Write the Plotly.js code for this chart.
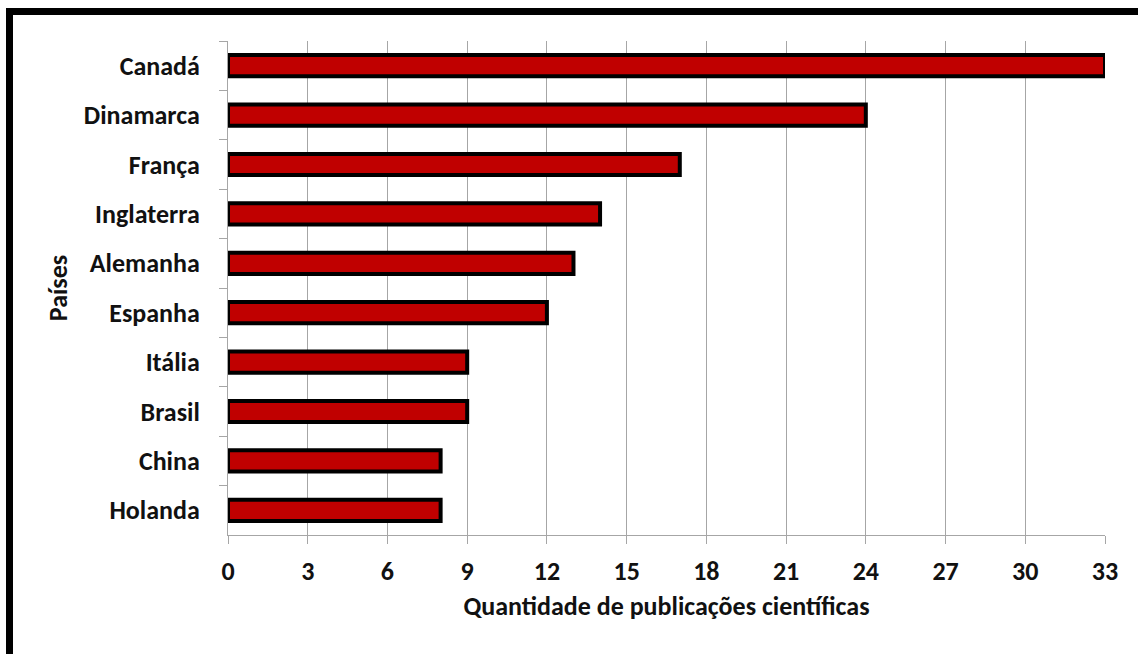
<!DOCTYPE html>
<html>
<head>
<meta charset="utf-8">
<script src="https://cdn.plot.ly/plotly-3.0.1.min.js"></script>
<style>
  html, body { margin: 0; padding: 0; background: #fff; }
  #wrap { position: relative; width: 1138px; height: 654px; overflow: hidden; }
  #chart { position: absolute; left: 0; top: 0; width: 1138px; height: 654px; }
  #frame { position: absolute; left: 6px; top: 8px; width: 1200px; height: 700px;
           border-left: 7px solid #000; border-top: 7px solid #000; pointer-events: none; }
</style>
</head>
<body>
<div id="wrap">
  <div id="chart"></div>
  <div id="frame"></div>
</div>
<script>
const countries = ["Canadá", "Dinamarca", "França", "Inglaterra", "Alemanha", "Espanha", "Itália", "Brasil", "China", "Holanda"];
const publications = [33, 24, 17, 14, 13, 12, 9, 9, 8, 8];
const xTicks = [0, 3, 6, 9, 12, 15, 18, 21, 24, 27, 30, 33];

const FONT = "Carlito, Lato, 'Open Sans', sans-serif";
const FS = 26;

const trace = {
  type: "bar",
  orientation: "h",
  x: publications,
  y: countries,
  width: 0.43,
  marker: { color: "#C00000", line: { color: "#000000", width: 4 } },
  hoverinfo: "x+y"
};

const layout = {
  width: 1138,
  height: 654,
  margin: { l: 228, r: 33, t: 41, b: 119 },
  paper_bgcolor: "#ffffff",
  plot_bgcolor: "#ffffff",
  showlegend: false,
  font: { family: FONT, size: FS, color: "#111" },
  xaxis: {
    range: [0, 33],
    tickvals: xTicks,
    ticktext: xTicks.map(String),
    showgrid: true,
    gridcolor: "#a6a6a6",
    gridwidth: 1,
    zeroline: false,
    showline: true,
    linecolor: "#a6a6a6",
    linewidth: 1,
    ticks: "outside",
    ticklen: 8,
    tickcolor: "#a6a6a6",
    ticklabelstandoff: 5,
    tickfont: { family: FONT, size: FS, color: "#111", weight: "bold" },
    title: { text: "Quantidade de publicações científicas", standoff: 10,
             font: { family: FONT, size: FS, color: "#111", weight: "bold" } }
  },
  yaxis: {
    type: "category",
    categoryorder: "array",
    categoryarray: countries,
    autorange: "reversed",
    showgrid: false,
    zeroline: false,
    showline: true,
    linecolor: "#a6a6a6",
    linewidth: 1,
    ticks: "outside",
    tickson: "boundaries",
    ticklen: 8,
    tickcolor: "#a6a6a6",
    ticklabelstandoff: 22,
    tickfont: { family: FONT, size: FS, color: "#111", weight: "bold" },
    title: { text: "Países", standoff: 8,
             font: { family: FONT, size: FS, color: "#111", weight: "bold" } }
  }
};

Plotly.newPlot("chart", [trace], layout, { displayModeBar: false, staticPlot: true });
</script>
</body>
</html>
